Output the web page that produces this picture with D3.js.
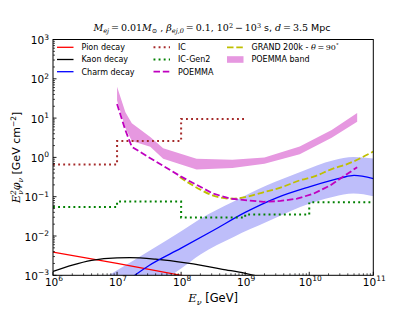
<!DOCTYPE html>
<html><head><meta charset="utf-8">
<script src="https://cdn.jsdelivr.net/npm/d3@7"></script>
<style>body{margin:0;background:#fff}svg{display:block}</style>
</head><body>
<svg id="c" width="415" height="311"></svg>
<script>
// ---------- data ----------
const xTicksExp = [6, 7, 8, 9, 10, 11];
const yTicksExp = [-3, -2, -1, 0, 1, 2, 3];

const pionE = [1e6, 1e7, 1e8, 1e9];
const pionF = [3.9e-3, 2.0e-3, 1.0e-3, 5.0e-4];

const kaonE = [1e6, 2.0e6, 4.0e6, 1e7, 1.58e7, 4.0e7, 1.26e8, 5.0e8, 1e9, 1.58e9, 4.0e9];
const kaonF = [1.26e-3, 1.82e-3, 2.4e-3, 2.79e-3, 2.82e-3, 2.57e-3, 2.04e-3, 1.38e-3, 1.12e-3, 9.5e-4, 6.3e-4];

const charmE = [1e7, 1.7e7, 3.16e7, 1e8, 3.16e8, 1e9, 3.16e9, 1e10, 3.16e10, 5e10, 1e11];
const charmF = [4.8e-4, 8.9e-4, 1.78e-3, 4.9e-3, 1.38e-2, 3.98e-2, 9.5e-2, 0.178, 0.302, 0.347, 0.288];

const charmBandE = [3.16e6, 1e7, 3.16e7, 1e8, 2e8, 6.6e8, 2.19e9, 7.24e9, 2.4e10, 4.9e10, 1e11];
const charmBandHi = [4.47e-4, 1.35e-3, 4.17e-3, 1.32e-2, 2.75e-2, 7.59e-2, 0.195, 0.427, 0.851, 1.02, 0.933];
const charmBandLo = [5.0e-5, 1.5e-4, 4.6e-4, 1.5e-3, 3.4e-3, 9.5e-3, 2.29e-2, 5.5e-2, 0.1, 0.12, 0.102];

const icE = [1e6, 1e7, 1e8, 1e9];
const icF = [0.66, 2.6, 9.5, 9.5];

const gen2E = [1e6, 1e7, 1e8, 1e9, 1e10, 1e11];
const gen2F = [0.055, 0.075, 0.0295, 0.035, 0.072, 0.072];

const poemmaE = [1e7, 1.35e7, 1.7e7, 3.16e7, 1e8, 3.16e8, 5.9e8, 1.07e9, 1.95e9, 3.55e9, 6.46e9, 1.17e10, 2.14e10, 5.6e10];
const poemmaF = [22.9, 4.9, 1.86, 1.0, 0.324, 0.12, 0.089, 0.081, 0.074, 0.078, 0.089, 0.12, 0.195, 0.562];

const poemmaBandE  = [1e7, 1.35e7, 1.7e7, 3.3e7, 5.25e7, 1.74e8, 6.3e8, 2e9, 7.1e9, 2.24e10, 5.6e10];
const poemmaBandHi = [63, 14, 7.4, 3.3, 1.7, 0.93, 0.87, 1.0, 1.9, 5.0, 13.5];
const poemmaBandLo = [28, 5.6, 2.6, 1.86, 0.93, 0.49, 0.54, 0.69, 1.2, 3.16, 8.1];

const grandE = [9.5e7, 2e8, 3.16e8, 6.3e8, 1.07e9, 2e9, 3.55e9, 7.24e9, 1.17e10, 2.4e10, 3.9e10, 1e11];
const grandF = [0.316, 0.151, 0.107, 0.089, 0.1, 0.132, 0.17, 0.263, 0.324, 0.525, 0.676, 1.41];

// ---------- layout ----------
const L = 53, R = 373.3, T = 39.5, B = 275.3;
const svg = d3.select("#c");
const x = d3.scaleLog().domain([1e6, 1e11]).range([L, R]);
const y = d3.scaleLog().domain([1e-3, 1e3]).range([B, T]);

svg.append("defs").append("clipPath").attr("id", "clip")
  .append("rect").attr("x", L).attr("y", T).attr("width", R - L).attr("height", B - T);
const g = svg.append("g").attr("clip-path", "url(#clip)");

const zip = (E, F) => E.map((e, i) => [e, F[i]]);
const lineLin = d3.line().x(d => x(d[0])).y(d => y(d[1]));
const lineSm = d3.line().x(d => x(d[0])).y(d => y(d[1])).curve(d3.curveMonotoneX);
const lineStep = d3.line().x(d => x(d[0])).y(d => y(d[1])).curve(d3.curveStepAfter);

function band(E, hi, lo, curve) {
  const a = d3.area().x(d => x(d[0])).y0(d => y(d[2])).y1(d => y(d[1]));
  if (curve) a.curve(curve);
  return a(E.map((e, i) => [e, hi[i], lo[i]]));
}

// bands
g.append("path").attr("d", band(charmBandE, charmBandHi, charmBandLo, d3.curveMonotoneX))
  .attr("fill", "rgb(190,190,250)").attr("stroke", "none");
g.append("path").attr("d", band(poemmaBandE, poemmaBandHi, poemmaBandLo))
  .attr("fill", "rgb(230,152,224)").attr("stroke", "none");

const dotted = "1.9,3.2", dashed = "6.5,2.8";
// lines
g.append("path").attr("d", lineLin(zip(pionE, pionF))).attr("fill", "none").attr("stroke", "#ff0000").attr("stroke-width", 1.3);
g.append("path").attr("d", lineSm(zip(kaonE, kaonF))).attr("fill", "none").attr("stroke", "#000").attr("stroke-width", 1.3);
g.append("path").attr("d", lineSm(zip(charmE, charmF))).attr("fill", "none").attr("stroke", "#0000ff").attr("stroke-width", 1.3);
g.append("path").attr("d", lineStep(zip(icE, icF))).attr("fill", "none").attr("stroke", "#a52a2a").attr("stroke-width", 2).attr("stroke-dasharray", dotted);
g.append("path").attr("d", lineStep(zip(gen2E, gen2F))).attr("fill", "none").attr("stroke", "#008000").attr("stroke-width", 2).attr("stroke-dasharray", dotted);
g.append("path").attr("d", lineSm(zip(grandE, grandF))).attr("fill", "none").attr("stroke", "#bfbf00").attr("stroke-width", 1.8).attr("stroke-dasharray", dashed);
g.append("path").attr("d", lineLin(zip(poemmaE, poemmaF))).attr("fill", "none").attr("stroke", "#bf00bf").attr("stroke-width", 1.8).attr("stroke-dasharray", dashed);

// ---------- axes ----------
const ax = svg.append("g");
ax.append("rect").attr("x", L).attr("y", T).attr("width", R - L).attr("height", B - T)
  .attr("fill", "none").attr("stroke", "#000").attr("stroke-width", 1);

const font = "DejaVu Sans";
function supLabel(sel, base, exp, anchor) {
  const t = sel.append("text").attr("font-family", font).attr("font-size", 10.5).attr("text-anchor", anchor).attr("fill", "#000");
  t.append("tspan").text(base);
  t.append("tspan").attr("font-size", 7.5).attr("dy", -4.5).text(exp);
  return t;
}
// x ticks
xTicksExp.forEach(e => {
  const px = x(Math.pow(10, e));
  ax.append("line").attr("x1", px).attr("x2", px).attr("y1", B).attr("y2", B - 3.5).attr("stroke", "#000").attr("stroke-width", 0.9);
  supLabel(ax, "10", String(e), "middle").attr("x", px + 1).attr("y", B + 10.5);
  if (e < 11) for (let m = 2; m <= 9; m++) {
    const pm = x(m * Math.pow(10, e));
    ax.append("line").attr("x1", pm).attr("x2", pm).attr("y1", B).attr("y2", B - 2).attr("stroke", "#000").attr("stroke-width", 0.7);
  }
});
// y ticks
yTicksExp.forEach(e => {
  const py = y(Math.pow(10, e));
  ax.append("line").attr("x1", L).attr("x2", L + 3.5).attr("y1", py).attr("y2", py).attr("stroke", "#000").attr("stroke-width", 0.9);
  supLabel(ax, "10", e < 0 ? "\u2212" + (-e) : String(e), "end").attr("x", L - 4).attr("y", py + 4.5);
  if (e < 3) for (let m = 2; m <= 9; m++) {
    const pm = y(m * Math.pow(10, e));
    ax.append("line").attr("x1", L).attr("x2", L + 2).attr("y1", pm).attr("y2", pm).attr("stroke", "#000").attr("stroke-width", 0.7);
  }
});

// axis labels
const xl = svg.append("text").attr("x", (L + R) / 2).attr("y", 302).attr("text-anchor", "middle")
  .attr("font-family", font).attr("font-size", 11.5).attr("fill", "#000");
xl.append("tspan").attr("font-family", "DejaVu Serif").attr("font-style", "italic").text("E");
xl.append("tspan").attr("font-family", "DejaVu Serif").attr("font-style", "italic").attr("font-size", 8).attr("dy", 2.5).text("ν");
xl.append("tspan").attr("dy", -2.5).text(" [GeV]");

const yl = svg.append("text").attr("transform", `translate(20,${(T + B) / 2}) rotate(-90)`).attr("text-anchor", "middle")
  .attr("font-family", font).attr("font-size", 11).attr("fill", "#000");
yl.append("tspan").attr("font-family", "DejaVu Serif").attr("font-style", "italic").text("E");
yl.append("tspan").attr("font-family", "DejaVu Serif").attr("font-style", "italic").attr("font-size", 7.5).attr("dy", -4).text("2");
yl.append("tspan").attr("font-family", "DejaVu Serif").attr("font-style", "italic").attr("font-size", 7.5).attr("dx", -4.5).attr("dy", 7).text("ν");
yl.append("tspan").attr("font-family", "DejaVu Serif").attr("font-style", "italic").attr("dy", -3).text("φ");
yl.append("tspan").attr("font-family", "DejaVu Serif").attr("font-style", "italic").attr("font-size", 7.5).attr("dy", 2.5).text("ν");
yl.append("tspan").attr("dy", -2.5).text(" [GeV cm");
yl.append("tspan").attr("font-size", 7.5).attr("dy", -4.5).text("\u22122");
yl.append("tspan").attr("dy", 4.5).text("]");

// title
const tt = svg.append("text").attr("x", 212).attr("y", 31).attr("text-anchor", "middle")
  .attr("font-family", "DejaVu Serif").attr("font-size", 9.5).attr("fill", "#000");
const it = (s, sz, dy) => { const sp = tt.append("tspan").attr("font-style", "italic").text(s); if (sz) sp.attr("font-size", sz); if (dy) sp.attr("dy", dy); return sp; };
const up = (s, sz, dy, fam) => { const sp = tt.append("tspan").text(s); if (sz) sp.attr("font-size", sz); if (dy) sp.attr("dy", dy); if (fam) sp.attr("font-family", fam); return sp; };
it("M"); it("ej", 6.5, 2); up("\u2009=\u20090.01", null, -2); it("M"); up("\u2299", 6.5, 2); up(" , ", null, -2);
it("β"); it("ej,0", 6.5, 2); up("\u2009=\u20090.1, 10", null, -2); up("2", 6.5, -3.5); up("\u2009\u2212\u200910", 9.5, 3.5); up("3", 6.5, -3.5);
up(" s, ", 9.5, 3.5, font); it("d"); up("\u2009=\u20093.5 "); up("Mpc", null, null, font);

// legend
const lg = svg.append("g").attr("font-family", font).attr("font-size", 8).attr("fill", "#000");
const rows = [47.3, 59.5, 71.7];
const legendItems = [
  {col: 0, row: 0, label: "Pion decay", color: "#ff0000", dash: null, w: 1.3},
  {col: 0, row: 1, label: "Kaon decay", color: "#000", dash: null, w: 1.3},
  {col: 0, row: 2, label: "Charm decay", color: "#0000ff", dash: null, w: 1.3},
  {col: 1, row: 0, label: "IC", color: "#a52a2a", dash: dotted, w: 2},
  {col: 1, row: 1, label: "IC-Gen2", color: "#008000", dash: dotted, w: 2},
  {col: 1, row: 2, label: "POEMMA", color: "#bf00bf", dash: dashed, w: 1.8},
  {col: 2, row: 0, label: "GRAND 200k - ", color: "#bfbf00", dash: dashed, w: 1.8},
  {col: 2, row: 1, label: "POEMMA band", color: "rgb(230,152,224)", patch: true}
];
const colX = [57, 153.5, 227];
legendItems.forEach(d => {
  const x0 = colX[d.col], yy = rows[d.row];
  if (d.patch) {
    lg.append("rect").attr("x", x0).attr("y", yy - 3.3).attr("width", 16.5).attr("height", 6.6).attr("fill", d.color);
  } else {
    const l = lg.append("line").attr("x1", x0).attr("x2", x0 + 16.5).attr("y1", yy).attr("y2", yy)
      .attr("stroke", d.color).attr("stroke-width", d.w);
    if (d.dash) l.attr("stroke-dasharray", d.dash);
  }
  const t = lg.append("text").attr("x", x0 + 24.5).attr("y", yy + 2.9).text(d.label);
  if (d.col === 2 && d.row === 0) {
    t.append("tspan").attr("font-family", "DejaVu Serif").attr("font-style", "italic").text("θ");
    t.append("tspan").attr("font-family", "DejaVu Serif").text("\u2009=\u200990");
    t.append("tspan").attr("font-family", "DejaVu Serif").attr("font-size", 5.5).attr("dy", -3).text("\u00b0");
  }
});
</script>
</body></html>
